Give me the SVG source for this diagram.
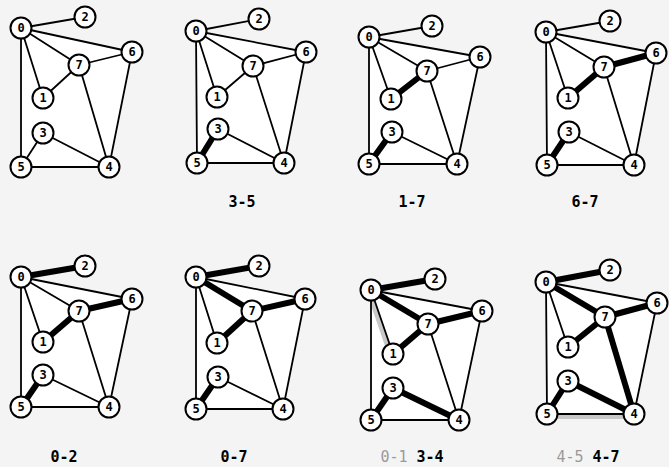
<svg xmlns="http://www.w3.org/2000/svg" width="669" height="467" viewBox="0 0 669 467">
<style>
.bg{fill:#f4f4f4}
.face{fill:#ffffff;stroke:none}
.e{stroke:#000;stroke-width:1.8;fill:none;stroke-linecap:round}
.t{stroke:#000;stroke-width:6;fill:none;stroke-linecap:butt}
.r{stroke:#c8c8c8;stroke-width:5;fill:none}
.node circle{fill:#fff;stroke:#000;stroke-width:2}
.node text{font-family:"DejaVu Sans Mono","Liberation Mono",monospace;font-size:12px;font-weight:bold;text-anchor:middle;fill:#000}
.cap{font-family:"DejaVu Sans Mono","Liberation Mono",monospace;font-size:15px;font-weight:bold;text-anchor:middle;fill:#000}
.g{fill:#9a9a9a;font-weight:normal}
</style>
<rect class="bg" x="0" y="0" width="669" height="467"/>
<g id="faces">
<polygon class="face" points="21,28 132,52 109,167 21,167"/>
<polygon class="face" points="196,31 306,52 284,163 197,163"/>
<polygon class="face" points="369,37 480,57 457,164 369,164"/>
<polygon class="face" points="546,32 656,53 634,165 547,165"/>
<polygon class="face" points="21,277 132,299 109,407 21,407"/>
<polygon class="face" points="196,277 305,299 283,409 196,409"/>
<polygon class="face" points="371,290 482,311 459,420 371,420"/>
<polygon class="face" points="546,282 657,303 634,414 547,414"/>
</g>
<g id="connectors">
<g id="p1-edges">
<line class="e" x1="21" y1="28" x2="85" y2="17"/>
<line class="e" x1="21" y1="28" x2="132" y2="52"/>
<line class="e" x1="21" y1="28" x2="79" y2="65"/>
<line class="e" x1="21" y1="28" x2="43" y2="98"/>
<line class="e" x1="21" y1="28" x2="21" y2="167"/>
<line class="e" x1="79" y1="65" x2="132" y2="52"/>
<line class="e" x1="79" y1="65" x2="43" y2="98"/>
<line class="e" x1="79" y1="65" x2="109" y2="167"/>
<line class="e" x1="132" y1="52" x2="109" y2="167"/>
<line class="e" x1="43" y1="133" x2="21" y2="167"/>
<line class="e" x1="43" y1="133" x2="109" y2="167"/>
<line class="e" x1="21" y1="167" x2="109" y2="167"/>
</g>
<g id="p2-edges">
<line class="e" x1="196" y1="31" x2="259" y2="19"/>
<line class="e" x1="196" y1="31" x2="306" y2="52"/>
<line class="e" x1="196" y1="31" x2="253" y2="66"/>
<line class="e" x1="196" y1="31" x2="217" y2="97"/>
<line class="e" x1="196" y1="31" x2="197" y2="163"/>
<line class="e" x1="253" y1="66" x2="306" y2="52"/>
<line class="e" x1="253" y1="66" x2="217" y2="97"/>
<line class="e" x1="253" y1="66" x2="284" y2="163"/>
<line class="e" x1="306" y1="52" x2="284" y2="163"/>
<line class="t" x1="218" y1="129" x2="197" y2="163"/>
<line class="e" x1="218" y1="129" x2="284" y2="163"/>
<line class="e" x1="197" y1="163" x2="284" y2="163"/>
</g>
<g id="p3-edges">
<line class="e" x1="369" y1="37" x2="432" y2="26"/>
<line class="e" x1="369" y1="37" x2="480" y2="57"/>
<line class="e" x1="369" y1="37" x2="427" y2="71"/>
<line class="e" x1="369" y1="37" x2="391" y2="99"/>
<line class="e" x1="369" y1="37" x2="369" y2="164"/>
<line class="e" x1="427" y1="71" x2="480" y2="57"/>
<line class="t" x1="427" y1="71" x2="391" y2="99"/>
<line class="e" x1="427" y1="71" x2="457" y2="164"/>
<line class="e" x1="480" y1="57" x2="457" y2="164"/>
<line class="t" x1="392" y1="132" x2="369" y2="164"/>
<line class="e" x1="392" y1="132" x2="457" y2="164"/>
<line class="e" x1="369" y1="164" x2="457" y2="164"/>
</g>
<g id="p4-edges">
<line class="e" x1="546" y1="32" x2="610" y2="21"/>
<line class="e" x1="546" y1="32" x2="656" y2="53"/>
<line class="e" x1="546" y1="32" x2="604" y2="67"/>
<line class="e" x1="546" y1="32" x2="568" y2="98"/>
<line class="e" x1="546" y1="32" x2="547" y2="165"/>
<line class="t" x1="604" y1="67" x2="656" y2="53"/>
<line class="t" x1="604" y1="67" x2="568" y2="98"/>
<line class="e" x1="604" y1="67" x2="634" y2="165"/>
<line class="e" x1="656" y1="53" x2="634" y2="165"/>
<line class="t" x1="569" y1="132" x2="547" y2="165"/>
<line class="e" x1="569" y1="132" x2="634" y2="165"/>
<line class="e" x1="547" y1="165" x2="634" y2="165"/>
</g>
<g id="p5-edges">
<line class="t" x1="21" y1="277" x2="85" y2="266"/>
<line class="e" x1="21" y1="277" x2="132" y2="299"/>
<line class="e" x1="21" y1="277" x2="79" y2="311"/>
<line class="e" x1="21" y1="277" x2="43" y2="342"/>
<line class="e" x1="21" y1="277" x2="21" y2="407"/>
<line class="t" x1="79" y1="311" x2="132" y2="299"/>
<line class="t" x1="79" y1="311" x2="43" y2="342"/>
<line class="e" x1="79" y1="311" x2="109" y2="407"/>
<line class="e" x1="132" y1="299" x2="109" y2="407"/>
<line class="t" x1="43" y1="375" x2="21" y2="407"/>
<line class="e" x1="43" y1="375" x2="109" y2="407"/>
<line class="e" x1="21" y1="407" x2="109" y2="407"/>
</g>
<g id="p6-edges">
<line class="t" x1="196" y1="277" x2="259" y2="266"/>
<line class="e" x1="196" y1="277" x2="305" y2="299"/>
<line class="t" x1="196" y1="277" x2="252" y2="311"/>
<line class="e" x1="196" y1="277" x2="217" y2="343"/>
<line class="e" x1="196" y1="277" x2="196" y2="409"/>
<line class="t" x1="252" y1="311" x2="305" y2="299"/>
<line class="t" x1="252" y1="311" x2="217" y2="343"/>
<line class="e" x1="252" y1="311" x2="283" y2="409"/>
<line class="e" x1="305" y1="299" x2="283" y2="409"/>
<line class="t" x1="218" y1="377" x2="196" y2="409"/>
<line class="e" x1="218" y1="377" x2="283" y2="409"/>
<line class="e" x1="196" y1="409" x2="283" y2="409"/>
</g>
<g id="p7-edges">
<line class="t" x1="371" y1="290" x2="435" y2="279"/>
<line class="e" x1="371" y1="290" x2="482" y2="311"/>
<line class="t" x1="371" y1="290" x2="428" y2="324"/>
<line class="r" x1="368.6" y1="290.8" x2="390.6" y2="354.8"/>
<line class="e" x1="371" y1="290" x2="393" y2="354"/>
<line class="e" x1="371" y1="290" x2="371" y2="420"/>
<line class="t" x1="428" y1="324" x2="482" y2="311"/>
<line class="t" x1="428" y1="324" x2="393" y2="354"/>
<line class="e" x1="428" y1="324" x2="459" y2="420"/>
<line class="e" x1="482" y1="311" x2="459" y2="420"/>
<line class="t" x1="393" y1="388" x2="371" y2="420"/>
<line class="t" x1="393" y1="388" x2="459" y2="420"/>
<line class="e" x1="371" y1="420" x2="459" y2="420"/>
</g>
<g id="p8-edges">
<line class="t" x1="546" y1="282" x2="610" y2="270"/>
<line class="e" x1="546" y1="282" x2="657" y2="303"/>
<line class="t" x1="546" y1="282" x2="605" y2="317"/>
<line class="e" x1="546" y1="282" x2="568" y2="347"/>
<line class="e" x1="546" y1="282" x2="547" y2="414"/>
<line class="t" x1="605" y1="317" x2="657" y2="303"/>
<line class="t" x1="605" y1="317" x2="568" y2="347"/>
<line class="t" x1="605" y1="317" x2="634" y2="414"/>
<line class="e" x1="657" y1="303" x2="634" y2="414"/>
<line class="t" x1="568" y1="381" x2="547" y2="414"/>
<line class="t" x1="568" y1="381" x2="634" y2="414"/>
<line class="r" x1="547" y1="416.6" x2="634" y2="416.6"/>
<line class="e" x1="547" y1="414" x2="634" y2="414"/>
</g>
</g>
<g id="p1-n0" class="node"><circle cx="21" cy="28" r="10.5"/><text x="21" y="32">0</text></g>
<g id="p1-n1" class="node"><circle cx="43" cy="98" r="10.5"/><text x="43" y="102">1</text></g>
<g id="p1-n2" class="node"><circle cx="85" cy="17" r="10.5"/><text x="85" y="21">2</text></g>
<g id="p1-n3" class="node"><circle cx="43" cy="133" r="10.5"/><text x="43" y="137">3</text></g>
<g id="p1-n4" class="node"><circle cx="109" cy="167" r="10.5"/><text x="109" y="171">4</text></g>
<g id="p1-n5" class="node"><circle cx="21" cy="167" r="10.5"/><text x="21" y="171">5</text></g>
<g id="p1-n6" class="node"><circle cx="132" cy="52" r="10.5"/><text x="132" y="56">6</text></g>
<g id="p1-n7" class="node"><circle cx="79" cy="65" r="10.5"/><text x="79" y="69">7</text></g>

<g id="p2-n0" class="node"><circle cx="196" cy="31" r="10.5"/><text x="196" y="35">0</text></g>
<g id="p2-n1" class="node"><circle cx="217" cy="97" r="10.5"/><text x="217" y="101">1</text></g>
<g id="p2-n2" class="node"><circle cx="259" cy="19" r="10.5"/><text x="259" y="23">2</text></g>
<g id="p2-n3" class="node"><circle cx="218" cy="129" r="10.5"/><text x="218" y="133">3</text></g>
<g id="p2-n4" class="node"><circle cx="284" cy="163" r="10.5"/><text x="284" y="167">4</text></g>
<g id="p2-n5" class="node"><circle cx="197" cy="163" r="10.5"/><text x="197" y="167">5</text></g>
<g id="p2-n6" class="node"><circle cx="306" cy="52" r="10.5"/><text x="306" y="56">6</text></g>
<g id="p2-n7" class="node"><circle cx="253" cy="66" r="10.5"/><text x="253" y="70">7</text></g>

<g id="p3-n0" class="node"><circle cx="369" cy="37" r="10.5"/><text x="369" y="41">0</text></g>
<g id="p3-n1" class="node"><circle cx="391" cy="99" r="10.5"/><text x="391" y="103">1</text></g>
<g id="p3-n2" class="node"><circle cx="432" cy="26" r="10.5"/><text x="432" y="30">2</text></g>
<g id="p3-n3" class="node"><circle cx="392" cy="132" r="10.5"/><text x="392" y="136">3</text></g>
<g id="p3-n4" class="node"><circle cx="457" cy="164" r="10.5"/><text x="457" y="168">4</text></g>
<g id="p3-n5" class="node"><circle cx="369" cy="164" r="10.5"/><text x="369" y="168">5</text></g>
<g id="p3-n6" class="node"><circle cx="480" cy="57" r="10.5"/><text x="480" y="61">6</text></g>
<g id="p3-n7" class="node"><circle cx="427" cy="71" r="10.5"/><text x="427" y="75">7</text></g>

<g id="p4-n0" class="node"><circle cx="546" cy="32" r="10.5"/><text x="546" y="36">0</text></g>
<g id="p4-n1" class="node"><circle cx="568" cy="98" r="10.5"/><text x="568" y="102">1</text></g>
<g id="p4-n2" class="node"><circle cx="610" cy="21" r="10.5"/><text x="610" y="25">2</text></g>
<g id="p4-n3" class="node"><circle cx="569" cy="132" r="10.5"/><text x="569" y="136">3</text></g>
<g id="p4-n4" class="node"><circle cx="634" cy="165" r="10.5"/><text x="634" y="169">4</text></g>
<g id="p4-n5" class="node"><circle cx="547" cy="165" r="10.5"/><text x="547" y="169">5</text></g>
<g id="p4-n6" class="node"><circle cx="656" cy="53" r="10.5"/><text x="656" y="57">6</text></g>
<g id="p4-n7" class="node"><circle cx="604" cy="67" r="10.5"/><text x="604" y="71">7</text></g>

<g id="p5-n0" class="node"><circle cx="21" cy="277" r="10.5"/><text x="21" y="281">0</text></g>
<g id="p5-n1" class="node"><circle cx="43" cy="342" r="10.5"/><text x="43" y="346">1</text></g>
<g id="p5-n2" class="node"><circle cx="85" cy="266" r="10.5"/><text x="85" y="270">2</text></g>
<g id="p5-n3" class="node"><circle cx="43" cy="375" r="10.5"/><text x="43" y="379">3</text></g>
<g id="p5-n4" class="node"><circle cx="109" cy="407" r="10.5"/><text x="109" y="411">4</text></g>
<g id="p5-n5" class="node"><circle cx="21" cy="407" r="10.5"/><text x="21" y="411">5</text></g>
<g id="p5-n6" class="node"><circle cx="132" cy="299" r="10.5"/><text x="132" y="303">6</text></g>
<g id="p5-n7" class="node"><circle cx="79" cy="311" r="10.5"/><text x="79" y="315">7</text></g>

<g id="p6-n0" class="node"><circle cx="196" cy="277" r="10.5"/><text x="196" y="281">0</text></g>
<g id="p6-n1" class="node"><circle cx="217" cy="343" r="10.5"/><text x="217" y="347">1</text></g>
<g id="p6-n2" class="node"><circle cx="259" cy="266" r="10.5"/><text x="259" y="270">2</text></g>
<g id="p6-n3" class="node"><circle cx="218" cy="377" r="10.5"/><text x="218" y="381">3</text></g>
<g id="p6-n4" class="node"><circle cx="283" cy="409" r="10.5"/><text x="283" y="413">4</text></g>
<g id="p6-n5" class="node"><circle cx="196" cy="409" r="10.5"/><text x="196" y="413">5</text></g>
<g id="p6-n6" class="node"><circle cx="305" cy="299" r="10.5"/><text x="305" y="303">6</text></g>
<g id="p6-n7" class="node"><circle cx="252" cy="311" r="10.5"/><text x="252" y="315">7</text></g>

<g id="p7-n0" class="node"><circle cx="371" cy="290" r="10.5"/><text x="371" y="294">0</text></g>
<g id="p7-n1" class="node"><circle cx="393" cy="354" r="10.5"/><text x="393" y="358">1</text></g>
<g id="p7-n2" class="node"><circle cx="435" cy="279" r="10.5"/><text x="435" y="283">2</text></g>
<g id="p7-n3" class="node"><circle cx="393" cy="388" r="10.5"/><text x="393" y="392">3</text></g>
<g id="p7-n4" class="node"><circle cx="459" cy="420" r="10.5"/><text x="459" y="424">4</text></g>
<g id="p7-n5" class="node"><circle cx="371" cy="420" r="10.5"/><text x="371" y="424">5</text></g>
<g id="p7-n6" class="node"><circle cx="482" cy="311" r="10.5"/><text x="482" y="315">6</text></g>
<g id="p7-n7" class="node"><circle cx="428" cy="324" r="10.5"/><text x="428" y="328">7</text></g>

<g id="p8-n0" class="node"><circle cx="546" cy="282" r="10.5"/><text x="546" y="286">0</text></g>
<g id="p8-n1" class="node"><circle cx="568" cy="347" r="10.5"/><text x="568" y="351">1</text></g>
<g id="p8-n2" class="node"><circle cx="610" cy="270" r="10.5"/><text x="610" y="274">2</text></g>
<g id="p8-n3" class="node"><circle cx="568" cy="381" r="10.5"/><text x="568" y="385">3</text></g>
<g id="p8-n4" class="node"><circle cx="634" cy="414" r="10.5"/><text x="634" y="418">4</text></g>
<g id="p8-n5" class="node"><circle cx="547" cy="414" r="10.5"/><text x="547" y="418">5</text></g>
<g id="p8-n6" class="node"><circle cx="657" cy="303" r="10.5"/><text x="657" y="307">6</text></g>
<g id="p8-n7" class="node"><circle cx="605" cy="317" r="10.5"/><text x="605" y="321">7</text></g>

<g id="captions">
<text class="cap" x="242" y="207">3-5</text>
<text class="cap" x="412" y="207">1-7</text>
<text class="cap" x="585" y="207">6-7</text>
<text class="cap" x="64" y="462">0-2</text>
<text class="cap" x="234" y="462">0-7</text>
<text class="cap" x="412" y="462"><tspan class="g">0-1</tspan> 3-4</text>
<text class="cap" x="588" y="462"><tspan class="g">4-5</tspan> 4-7</text>
</g>
</svg>
